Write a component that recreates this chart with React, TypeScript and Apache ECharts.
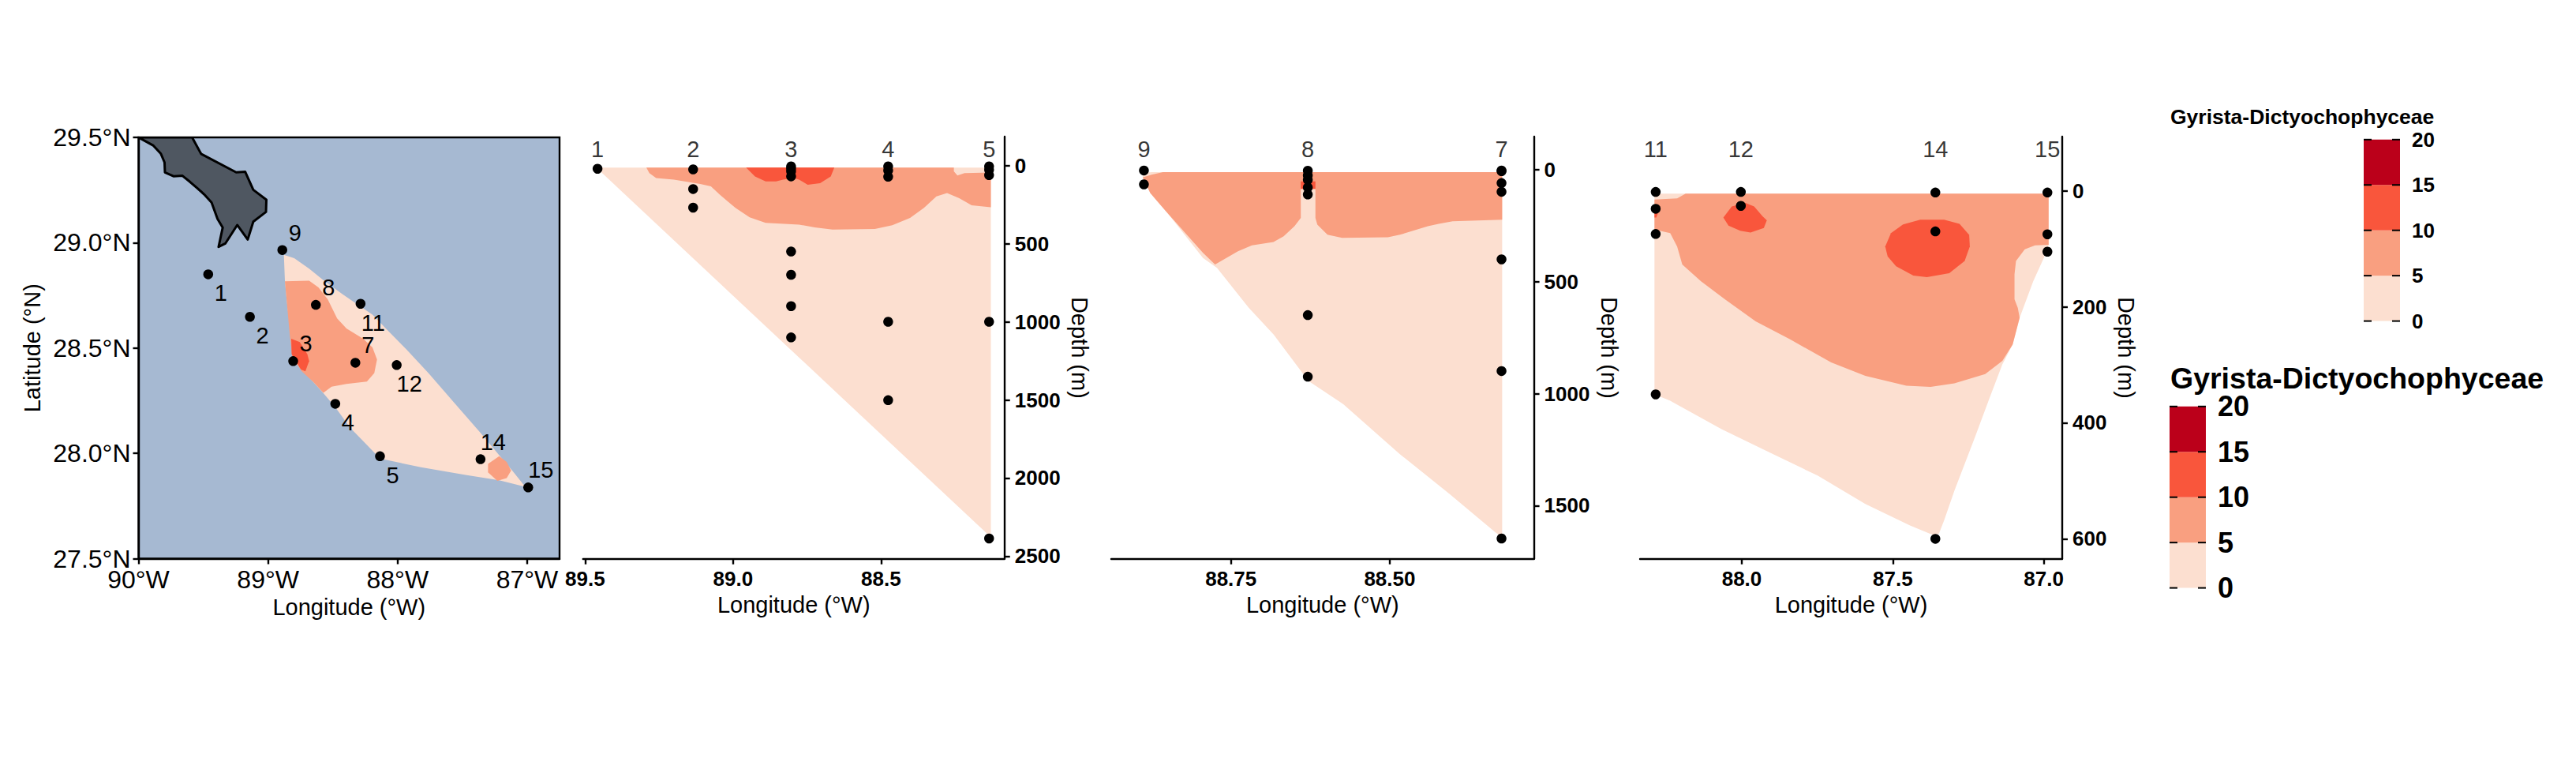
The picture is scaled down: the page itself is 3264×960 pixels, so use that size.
import React, { useEffect, useRef } from "react";
import * as echarts from "echarts";

const LIGHT = "#FCDFD0";
const MID = "#F99F80";
const HOT = "#F9563C";
const DARK = "#BB001A";
const bandColors = [LIGHT, MID, HOT, DARK];
const legendStops = [0, 5, 10, 15, 20];
const legendTitle = "Gyrista-Dictyochophyceae";

// ---- map panel (lon, lat)
const mapLonTicks = [-90, -89, -88, -87];
const mapLatTicks = [27.5, 28, 28.5, 29, 29.5];
const land = [[-90,29.5],[-89.885,29.461],[-89.827,29.422],[-89.799,29.381],[-89.796,29.334],[-89.727,29.315],[-89.661,29.318],[-89.603,29.289],[-89.546,29.259],[-89.494,29.23],[-89.436,29.191],[-89.39,29.113],[-89.35,29.072],[-89.382,28.98],[-89.33,28.996],[-89.238,29.084],[-89.157,29.015],[-89.114,29.1],[-89.016,29.146],[-89.013,29.204],[-89.114,29.251],[-89.177,29.337],[-89.246,29.334],[-89.517,29.422],[-89.586,29.5]];
const mapStationNames = ["1","2","3","4","5","7","8","9","11","12","14","15"];
const mapStationLon = [-89.462,-89.14,-88.806,-88.481,-88.136,-88.326,-88.631,-88.89,-88.286,-88.007,-87.36,-86.992];
const mapStationLat = [28.85,28.648,28.438,28.235,27.986,28.43,28.705,28.965,28.71,28.419,27.972,27.838];
const mapLabelAbove = ["3","7","8","9","14","15"];
const mapLight = [[-88.878,28.942],[-88.798,28.926],[-88.683,28.877],[-88.568,28.82],[-88.424,28.755],[-88.286,28.697],[-88.194,28.658],[-88.079,28.585],[-87.935,28.495],[-87.762,28.381],[-87.59,28.259],[-87.36,28.097],[-87.216,27.991],[-87.115,27.918],[-87.015,27.841],[-87.216,27.872],[-87.475,27.897],[-87.82,27.934],[-88.136,27.975],[-88.237,28.04],[-88.366,28.121],[-88.481,28.219],[-88.582,28.292],[-88.726,28.389],[-88.798,28.446],[-88.821,28.544],[-88.855,28.723],[-88.87,28.82]];
const mapMid = [[-88.87,28.817],[-88.683,28.82],[-88.611,28.788],[-88.539,28.731],[-88.467,28.641],[-88.395,28.593],[-88.266,28.544],[-88.194,28.503],[-88.159,28.446],[-88.18,28.381],[-88.237,28.341],[-88.395,28.329],[-88.51,28.316],[-88.573,28.287],[-88.654,28.341],[-88.74,28.389],[-88.812,28.454],[-88.832,28.56]];
const mapHot = [[-88.821,28.544],[-88.755,28.528],[-88.697,28.471],[-88.683,28.438],[-88.712,28.389],[-88.746,28.398],[-88.818,28.471]];
const mapBlob = [[-87.216,27.986],[-87.302,27.95],[-87.302,27.91],[-87.23,27.869],[-87.158,27.882],[-87.124,27.918],[-87.158,27.959]];

// ---- section 1 (stations 1-5)
const sec1Names = ["1","2","3","4","5"];
const sec1Lon = [89.458,89.135,88.804,88.476,88.135];
const sec1Depths = [[19],[23,149,268],[4,19,36,68,549,698,899,1099],[4,30,70,999,1501],[4,26,60,999,2387]];
const sec1LonTicks = [89.5,89,88.5];
const sec1DepthTicks = [0,500,1000,1500,2000,2500];
const sec1Light = [[89.456,11],[88.129,11],[88.129,2368],[88.135,2368],[89.458,19]];
const sec1Mid = [[89.293,11],[88.254,11],[88.254,36],[88.242,62],[88.218,47],[88.129,43],[88.129,266],[88.194,253],[88.236,207],[88.277,175],[88.313,196],[88.355,270],[88.402,334],[88.462,381],[88.521,405],[88.664,409],[88.724,394],[88.777,377],[88.89,366],[88.944,330],[88.992,270],[89.045,185],[89.075,132],[89.111,117],[89.2,89],[89.26,79],[89.283,47]];
const sec1Hot = [[88.956,11],[88.658,11],[88.67,68],[88.706,111],[88.748,121],[88.777,89],[88.795,79],[88.831,89],[88.855,100],[88.89,100],[88.926,68]];

// ---- section 2 (stations 9-7)
const sec2Names = ["9","8","7"];
const sec2Lon = [88.887,88.629,88.324];
const sec2Depths = [[3,65],[4,25,45,79,110,649,924],[3,6,59,98,400,899,1647]];
const sec2LonTicks = [88.75,88.5];
const sec2DepthTicks = [0,500,1000,1500];
const sec2Light = [[88.889,15],[88.875,10],[88.323,10],[88.323,1641],[88.334,1619],[88.406,1448],[88.484,1270],[88.573,1047],[88.628,943],[88.683,735],[88.722,616],[88.772,438],[88.794,394],[88.85,193],[88.877,104],[88.889,30]];
const sec2Mid = [[88.889,34],[88.875,22],[88.857,10],[88.323,10],[88.323,223],[88.401,230],[88.423,241],[88.44,252],[88.484,290],[88.503,301],[88.575,304],[88.598,290],[88.614,245],[88.617,215],[88.617,85],[88.64,85],[88.64,215],[88.65,252],[88.667,297],[88.683,322],[88.717,337],[88.739,364],[88.775,423],[88.794,371],[88.822,282],[88.85,193],[88.877,104]];
const sec2Hot = [[88.64,52],[88.617,52],[88.617,85],[88.64,85]];

// ---- section 3 (stations 11-15)
const sec3Names = ["11","12","14","15"];
const sec3Lon = [88.285,88.003,87.359,86.988];
const sec3Depths = [[2,31,74.5,351],[2,26],[3,70,600],[3,75,105]];
const sec3LonTicks = [88,87.5,87];
const sec3DepthTicks = [0,200,400,600];
const sec3Light = [[88.289,5],[86.984,5],[86.984,93],[86.995,110],[87.035,156],[87.08,219],[87.103,265],[87.137,299],[87.183,362],[87.228,425],[87.296,517],[87.33,568],[87.347,591],[87.364,594],[87.443,577],[87.591,540],[87.749,491],[87.908,451],[88.067,411],[88.237,362],[88.289,351]];
const sec3Mid = [[88.289,15],[88.214,13],[88.186,5],[86.984,5],[86.984,93],[87.029,94],[87.063,101],[87.092,121],[87.097,144],[87.097,187],[87.086,202],[87.08,219],[87.103,265],[87.137,293],[87.194,316],[87.296,332],[87.375,338],[87.455,336],[87.591,319],[87.704,296],[87.84,256],[87.954,225],[88.056,187],[88.135,156],[88.197,127],[88.214,96],[88.237,73],[88.289,67]];
const sec3HotA = [[87.988,21],[87.959,27],[87.931,44],[87.917,51],[87.927,64],[87.971,72],[88.005,69],[88.044,60],[88.061,46],[88.033,27]];
const sec3HotB = [[87.409,50],[87.33,50],[87.279,57],[87.247,76],[87.245,96],[87.262,121],[87.313,142],[87.387,149],[87.432,146],[87.489,130],[87.517,113],[87.525,96],[87.506,73],[87.466,58]];
const sec3HotC = [[88.289,38],[88.277,38],[88.283,46],[88.289,46]];

const SANS = "'Liberation Sans', Arial, sans-serif";

const polygon = (g: number, pts: number[][], fill: string, z = 2, stroke?: string) => ({
  type: "custom",
  xAxisIndex: g,
  yAxisIndex: g,
  silent: true,
  z,
  clip: true,
  encode: { x: 0, y: 1 },
  data: [pts[0]],
  renderItem: (_p: any, api: any) => ({
    type: "polygon",
    shape: { points: pts.map((q) => api.coord(q)) },
    style: stroke ? { fill, stroke, lineWidth: 3, lineJoin: "round" } : { fill },
  }),
});

const dots = (g: number, data: any[]) => ({
  type: "scatter",
  xAxisIndex: g,
  yAxisIndex: g,
  silent: true,
  z: 10,
  clip: false,
  symbol: "circle",
  symbolSize: 12.5,
  itemStyle: { color: "#000", opacity: 1 },
  data,
});

const sectionDots = (g: number, lon: number[], depths: number[][]) =>
  dots(g, lon.flatMap((x, i) => depths[i].map((d) => [x, d])));

const sectionNames = (g: number, lon: number[], names: string[], y: number) => ({
  type: "scatter",
  xAxisIndex: g,
  yAxisIndex: g,
  silent: true,
  clip: false,
  z: 11,
  symbolSize: 0,
  data: lon.map((x, i) => ({
    value: [x, y],
    label: {
      show: true,
      position: "inside",
      formatter: names[i],
      color: "#000",
      fontFamily: SANS,
      fontSize: 29,
    },
  })),
});

const titleStyle = { color: "#000", fontFamily: SANS, fontSize: 29, fontWeight: "normal" as const };
const tickBold = { color: "#000", fontFamily: SANS, fontSize: 26, fontWeight: "bold" as const };
const line = { show: true, lineStyle: { color: "#000", width: 2.4 } };
const tick = (vals: number[]) => ({
  show: true,
  length: 7,
  lineStyle: { color: "#000", width: 2.4 },
  customValues: vals,
});

const sectionAxes = (
  lonRange: number[],
  depthRange: number[],
  lonTicks: number[],
  depthTicks: number[],
  digits: number,
  g: number,
  depthGap: number
) => ({
  x: {
    type: "value",
    gridIndex: g,
    inverse: true,
    min: lonRange[0],
    max: lonRange[1],
    splitLine: { show: false },
    axisLine: { ...line, onZero: false },
    axisTick: tick(lonTicks),
    axisLabel: {
      ...tickBold,
      margin: 12,
      customValues: lonTicks,
      formatter: (v: number) => v.toFixed(digits),
    },
    name: "Longitude (°W)",
    nameLocation: "middle",
    nameGap: 44,
    nameTextStyle: titleStyle,
  },
  y: {
    type: "value",
    gridIndex: g,
    inverse: true,
    position: "right",
    min: depthRange[0],
    max: depthRange[1],
    splitLine: { show: false },
    axisLine: { ...line, onZero: false },
    axisTick: tick(depthTicks),
    axisLabel: { ...tickBold, margin: 13, customValues: depthTicks, formatter: (v: number) => String(v) },
    name: "Depth (m)",
    nameLocation: "middle",
    nameRotate: -90,
    nameGap: depthGap,
    nameTextStyle: titleStyle,
  },
});

const legendSeries = (g: number) => ({
  type: "custom",
  xAxisIndex: g,
  yAxisIndex: g,
  silent: true,
  z: 3,
  encode: { y: 0 },
  data: legendStops.map((s) => [s]),
  renderItem: (p: any, api: any) => {
    const i = p.dataIndex;
    const v = legendStops[i];
    const [x0, y0] = api.coord([0, v]);
    const [x1] = api.coord([1, v]);
    const children: any[] = [];
    if (i < legendStops.length - 1) {
      const [, yTop] = api.coord([0, legendStops[i + 1]]);
      children.push({
        type: "rect",
        shape: { x: x0, y: yTop, width: x1 - x0, height: y0 - yTop },
        style: { fill: bandColors[i] },
      });
    }
    children.push(
      { type: "rect", z2: 5, shape: { x: x0, y: y0 - 1, width: 10, height: 2 }, style: { fill: "#000" } },
      { type: "rect", z2: 5, shape: { x: x1 - 10, y: y0 - 1, width: 10, height: 2 }, style: { fill: "#000" } }
    );
    return { type: "group", children };
  },
});

const legendAxes = (g: number, fontSize: number) => ({
  x: { type: "value", gridIndex: g, min: 0, max: 1, show: false },
  y: {
    type: "value",
    gridIndex: g,
    position: "right",
    min: 0,
    max: 20,
    interval: 5,
    splitLine: { show: false },
    axisLine: { show: false },
    axisTick: { show: false },
    axisLabel: { color: "#000", fontFamily: SANS, fontSize, fontWeight: "bold", margin: 15 },
  },
});

export default function App() {
  const ref = useRef<HTMLDivElement>(null);
  useEffect(() => {
    const chart = echarts.init(ref.current!, undefined, { renderer: "svg" });
    const s1 = sectionAxes([88.083, 89.507], [-187, 2517], sec1LonTicks, sec1DepthTicks, 1, 1, 81);
    const s2 = sectionAxes([88.273, 88.9385], [-148.5, 1737.6], sec2LonTicks, sec2DepthTicks, 2, 2, 81);
    const s3 = sectionAxes([86.939, 88.337], [-93.4, 634.4], sec3LonTicks, sec3DepthTicks, 1, 3, 66);
    const la = legendAxes(4, 26);
    const lb = legendAxes(5, 36);
    chart.setOption({
      animation: false,
      backgroundColor: "#fff",
      grid: [
        { left: 175.5, top: 174, width: 533.5, height: 533.5, show: true, backgroundColor: "#A6B9D2", borderColor: "#000", borderWidth: 2.4, containLabel: false },
        { left: 738.75, top: 173, width: 534, height: 534.7 },
        { left: 1408, top: 173, width: 535.6, height: 534.7 },
        { left: 2078, top: 173, width: 535, height: 534.7 },
        { left: 2995, top: 176.8, width: 46, height: 229.8 },
        { left: 2749, top: 514.8, width: 46, height: 229.8 },
      ],
      xAxis: [
        {
          type: "value",
          gridIndex: 0,
          min: -90,
          max: -86.75,
          splitLine: { show: false },
          axisLine: { ...line, onZero: false },
          axisTick: tick(mapLonTicks),
          axisLabel: {
            color: "#000",
            fontFamily: SANS,
            fontSize: 32,
            margin: 10,
            customValues: mapLonTicks,
            formatter: (v: number) => `${-v}°W`,
          },
          name: "Longitude (°W)",
          nameLocation: "middle",
          nameGap: 46,
          nameTextStyle: titleStyle,
        },
        s1.x, s2.x, s3.x, la.x, lb.x,
      ],
      yAxis: [
        {
          type: "value",
          gridIndex: 0,
          min: 27.5,
          max: 29.5,
          splitLine: { show: false },
          axisLine: { ...line, onZero: false },
          axisTick: tick(mapLatTicks),
          axisLabel: {
            color: "#000",
            fontFamily: SANS,
            fontSize: 32,
            margin: 10,
            customValues: mapLatTicks,
            formatter: (v: number) => `${v.toFixed(1)}°N`,
          },
          name: "Latitude (°N)",
          nameLocation: "middle",
          nameRotate: 90,
          nameGap: 120,
          nameTextStyle: titleStyle,
        },
        s1.y, s2.y, s3.y, la.y, lb.y,
      ],
      graphic: [
        { type: "text", left: 2750, top: 134, style: { text: legendTitle, fill: "#000", font: `bold 26.5px ${SANS}` } },
        { type: "text", left: 2750, top: 460, style: { text: legendTitle, fill: "#000", font: `bold 37.5px ${SANS}` } },
      ],
      series: [
        polygon(0, land, "#4F5761", 3, "#000"),
        polygon(0, mapLight, LIGHT, 2),
        polygon(0, mapMid, MID, 3),
        polygon(0, mapBlob, MID, 3),
        polygon(0, mapHot, HOT, 4),
        dots(0, mapStationLon.map((x, i) => {
          const name = mapStationNames[i];
          const above = mapLabelAbove.includes(name);
          return {
            value: [x, mapStationLat[i]],
            label: {
              show: true,
              position: "inside",
              offset: [16, above ? -22 : 24],
              formatter: name,
              color: "#000",
              fontFamily: SANS,
              fontSize: 29,
            },
          };
        })),

        polygon(1, sec1Light, LIGHT, 2),
        polygon(1, sec1Mid, MID, 3),
        polygon(1, sec1Hot, HOT, 4),
        sectionDots(1, sec1Lon, sec1Depths),
        sectionNames(1, sec1Lon, sec1Names, -106),

        polygon(2, sec2Light, LIGHT, 2),
        polygon(2, sec2Mid, MID, 3),
        polygon(2, sec2Hot, HOT, 4),
        sectionDots(2, sec2Lon, sec2Depths),
        sectionNames(2, sec2Lon, sec2Names, -92),

        polygon(3, sec3Light, LIGHT, 2),
        polygon(3, sec3Mid, MID, 3),
        polygon(3, sec3HotA, HOT, 4),
        polygon(3, sec3HotB, HOT, 4),
        polygon(3, sec3HotC, HOT, 4),
        sectionDots(3, sec3Lon, sec3Depths),
        sectionNames(3, sec3Lon, sec3Names, -72),

        legendSeries(4),
        legendSeries(5),
      ],
    });
    return () => chart.dispose();
  }, []);
  return (
    <div
      ref={ref}
      style={{ position: "absolute", left: 0, top: 0, width: 3264, height: 960 }}
    />
  );
}
